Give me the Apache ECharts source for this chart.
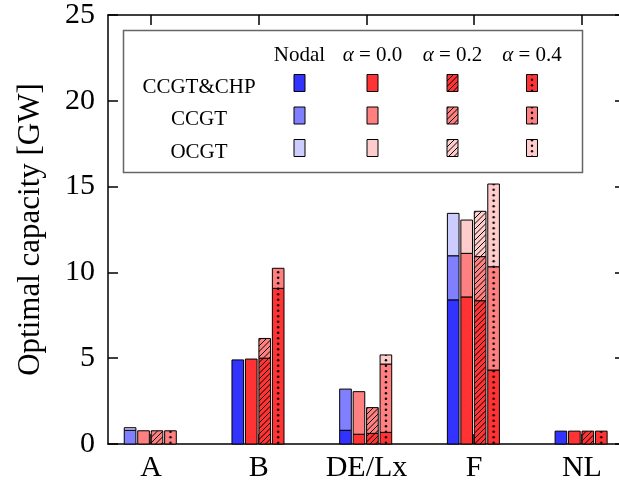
<!DOCTYPE html>
<html>
<head>
<meta charset="utf-8">
<script src="https://cdn.jsdelivr.net/npm/echarts@6/dist/echarts.min.js"></script>
<style>
  html, body { margin: 0; padding: 0; background: #fff; }
  #chart { width: 619px; height: 489px; }
</style>
</head>
<body>
<div id="chart"></div>
<script>
const CATEGORIES = ["A", "B", "DE/Lx", "F", "NL"];
const TECHS = ["CCGT&CHP", "CCGT", "OCGT"];
const SCENARIOS = ["Nodal", "0.0", "0.2", "0.4"];
const Y_TICKS = [0, 5, 10, 15, 20, 25];

// optimal capacity in GW, one array per scenario and technology
const NODAL_CHP = [0, 4.9, 0.8, 8.4, 0.75];
const NODAL_CCGT = [0.8, 0, 2.4, 2.57, 0];
const NODAL_OCGT = [0.15, 0, 0, 2.47, 0];
const A00_CHP = [0, 4.95, 0.57, 8.57, 0.75];
const A00_CCGT = [0.77, 0, 2.48, 2.54, 0];
const A00_OCGT = [0, 0, 0, 1.94, 0];
const A02_CHP = [0, 5.0, 0.62, 8.35, 0.75];
const A02_CCGT = [0.77, 1.15, 1.5, 2.57, 0];
const A02_OCGT = [0, 0, 0, 2.64, 0];
const A04_CHP = [0, 9.07, 0.68, 4.31, 0.75];
const A04_CCGT = [0.77, 1.17, 3.98, 6.02, 0];
const A04_OCGT = [0, 0, 0.53, 4.82, 0];

const SERIES_DATA = [
  [NODAL_CHP, NODAL_CCGT, NODAL_OCGT],
  [A00_CHP, A00_CCGT, A00_OCGT],
  [A02_CHP, A02_CCGT, A02_OCGT],
  [A04_CHP, A04_CCGT, A04_OCGT],
];

const BLUES = ["#3333ff", "#8080ff", "#ccccff"];
const REDS = ["#ff3333", "#ff8080", "#ffcccc"];
const OFFSETS = [-0.195, -0.07, 0.055, 0.18];
const BAR_W = 0.108;
const FONT = "'Liberation Serif', 'DejaVu Serif', serif";

function tile(w, h, bg, draw) {
  const c = document.createElement("canvas");
  c.width = w; c.height = h;
  const ctx = c.getContext("2d");
  ctx.fillStyle = bg; ctx.fillRect(0, 0, w, h);
  ctx.strokeStyle = "#000"; ctx.fillStyle = "#000"; ctx.lineWidth = 1;
  draw(ctx);
  return c;
}

function hatchTile(bg) {
  return tile(11, 11, bg, (ctx) => {
    ctx.beginPath();
    for (let o = -11; o <= 11; o += 5.5) { ctx.moveTo(o, 11); ctx.lineTo(o + 11, 0); }
    ctx.stroke();
  });
}

function dotTile(bg) {
  return tile(12, 11, bg, (ctx) => {
    [2.75, 8.25].forEach((y) => { ctx.beginPath(); ctx.arc(6, y, 1.2, 0, Math.PI * 2); ctx.fill(); });
  });
}

const HATCH = REDS.map(hatchTile);
const DOTS = REDS.map(dotTile);

// fill for scenario s, technology k; cx = bar centre in px
function fillFor(s, k, cx) {
  if (s === 0) return BLUES[k];
  if (s === 1) return REDS[k];
  if (s === 2) return { image: HATCH[k], repeat: "repeat", x: 0, y: 0 };
  return { image: DOTS[k], repeat: "repeat", x: cx - 6, y: 0 };
}

function renderItem(params, api) {
  const s = params.seriesIndex;
  const cat = api.value(0);
  const xl = api.coord([cat + OFFSETS[s] - BAR_W / 2, 0])[0];
  const xr = api.coord([cat + OFFSETS[s] + BAR_W / 2, 0])[0];
  const children = [];
  let base = 0;
  for (let k = 0; k < 3; k++) {
    const v = api.value(k + 1);
    if (!v) continue;
    const y0 = api.coord([cat, base])[1];
    const y1 = api.coord([cat, base + v])[1];
    children.push({
      type: "rect",
      shape: { x: xl, y: y1, width: xr - xl, height: y0 - y1 },
      style: { fill: fillFor(s, k, (xl + xr) / 2), stroke: "#000", lineWidth: 1 },
    });
    base += v;
  }
  return { type: "group", children };
}

// legend as a small matrix: rows = technologies, columns = scenarios
function legendGraphics() {
  const items = [{ type: "rect", z: 100, shape: { x: 123.5, y: 30.5, width: 459, height: 142 }, style: { fill: "#fff", stroke: "#666", lineWidth: 1.5 } }];
  const colX = [299.5, 372.5, 452.5, 532];
  const rowY = [83, 115.5, 148];
  const textStyle = { fontFamily: FONT, fontSize: 21, fill: "#000", align: "center", verticalAlign: "middle" };
  SCENARIOS.forEach((name, j) => {
    const text = j === 0 ? name : `{a|α} = ${name}`;
    items.push({ type: "text", z: 101, x: colX[j], y: 55, style: { ...textStyle, text, rich: { a: { fontFamily: FONT, fontSize: 21, fontStyle: "italic" } } } });
  });
  TECHS.forEach((name, k) => {
    items.push({ type: "text", z: 101, x: 199, y: rowY[k] + 4, style: { ...textStyle, text: name } });
    SCENARIOS.forEach((_, j) => {
      items.push({ type: "rect", z: 101, shape: { x: colX[j] - 5.5, y: rowY[k] - 8.5, width: 11, height: 17 }, style: { fill: fillFor(j, k, colX[j]), stroke: "#000", lineWidth: 1 } });
    });
  });
  return items;
}

const axisLine = { show: true, onZero: false, lineStyle: { color: "#000", width: 1.5 } };
const tickStyle = { color: "#000", width: 1.5 };
const CAT_TICKS = CATEGORIES.map((_, i) => i);

const chart = echarts.init(document.getElementById("chart"), null, { renderer: "canvas" });
chart.setOption({
  animation: false,
  grid: { left: 108, top: 15, width: 517, height: 429, outerBoundsMode: "none" },
  xAxis: [
    {
      type: "value", min: -0.4, max: 4.4, position: "bottom",
      axisLine, splitLine: { show: false },
      axisTick: { inside: true, length: 10, customValues: CAT_TICKS, lineStyle: tickStyle },
      axisLabel: { customValues: CAT_TICKS, formatter: (v) => CATEGORIES[Math.round(v)], fontFamily: FONT, fontSize: 30, color: "#000", margin: 9 },
    },
    {
      type: "value", min: -0.4, max: 4.4, position: "top",
      axisLine, splitLine: { show: false },
      axisTick: { inside: true, length: 10, customValues: CAT_TICKS, lineStyle: tickStyle },
      axisLabel: { show: false },
    },
  ],
  yAxis: [
    {
      type: "value", min: 0, max: 25, interval: 5, position: "left",
      name: "Optimal capacity [GW]", nameLocation: "middle", nameGap: 62,
      nameTextStyle: { fontFamily: FONT, fontSize: 31, color: "#000" },
      axisLine, splitLine: { show: false },
      axisTick: { inside: true, length: 10, lineStyle: tickStyle },
      axisLabel: { fontFamily: FONT, fontSize: 30, color: "#000", margin: 13, showMinLabel: true, showMaxLabel: true, customValues: Y_TICKS },
    },
    {
      type: "value", min: 0, max: 25, interval: 5, position: "right",
      axisLine, splitLine: { show: false },
      axisTick: { inside: true, length: 10, lineStyle: tickStyle },
      axisLabel: { show: false },
    },
  ],
  graphic: legendGraphics(),
  series: SERIES_DATA.map((techs, s) => ({
    type: "custom",
    name: SCENARIOS[s],
    renderItem,
    xAxisIndex: 0,
    yAxisIndex: 0,
    data: CATEGORIES.map((_, i) => [i, techs[0][i], techs[1][i], techs[2][i]]),
  })),
});
</script>
</body>
</html>
